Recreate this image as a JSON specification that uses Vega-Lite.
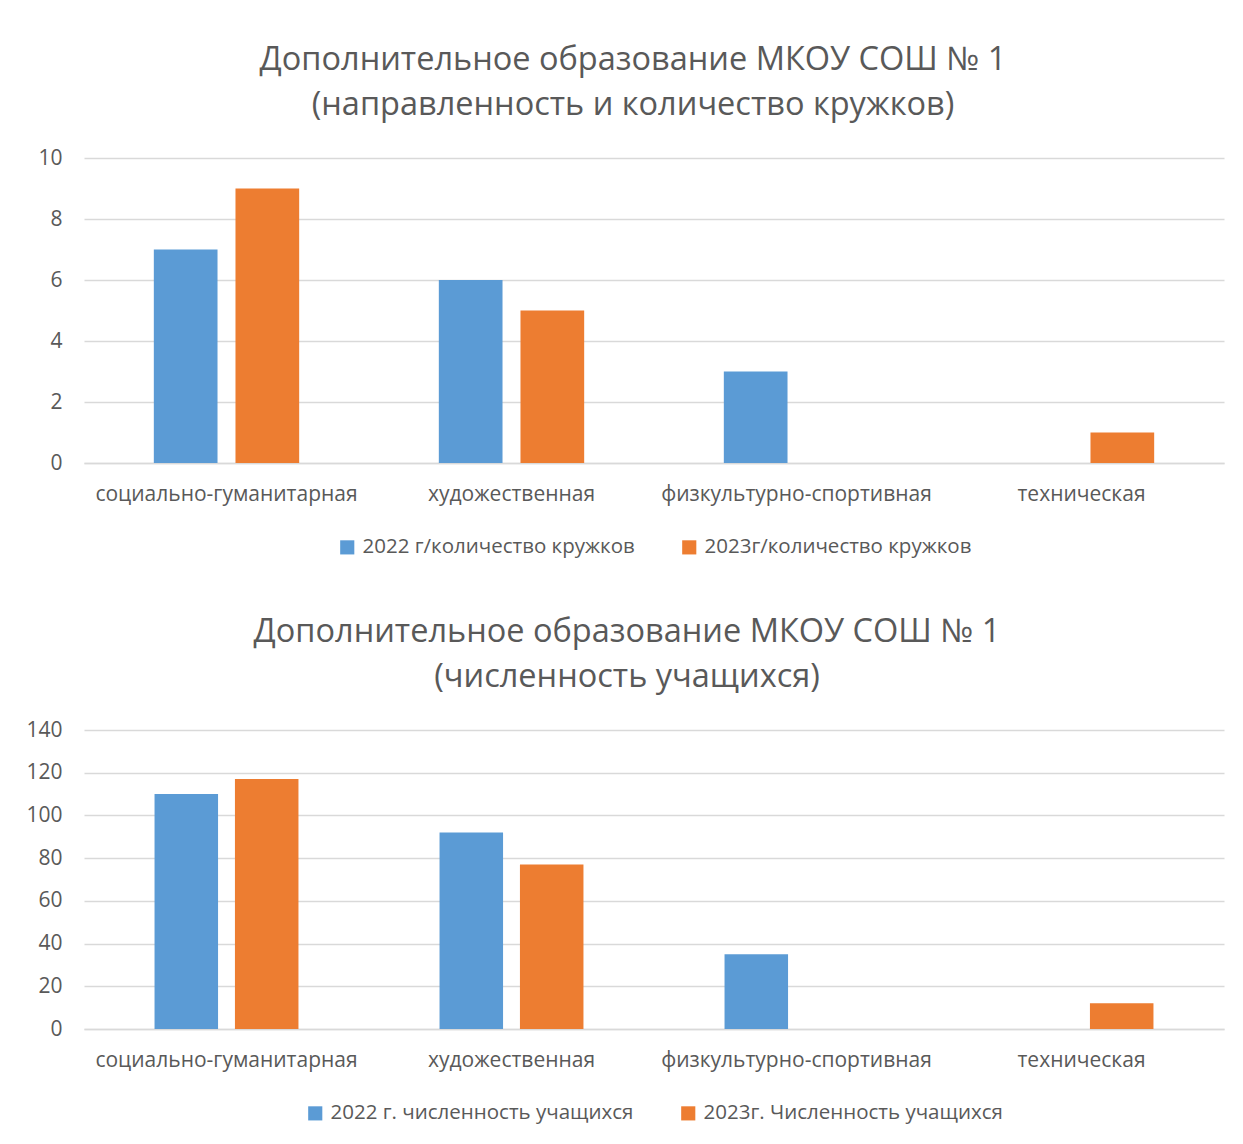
{
  "$schema": "https://vega.github.io/schema/vega-lite/v6.json",
  "padding": {"left": 25, "top": 43, "right": 18, "bottom": 10},
  "background": "white",
  "spacing": 57,
  "config": {
    "font": "Open Sans",
    "view": {"stroke": null},
    "title": {"fontSize": 32.5, "fontWeight": "normal", "color": "#595959", "lineHeight": 45, "anchor": "middle", "frame": "bounds", "offset": 26, "dx": 2},
    "axis": {"labelFont": "Open Sans", "labelFontSize": 21, "labelColor": "#595959", "ticks": false, "title": null, "gridColor": "#D9D9D9", "gridWidth": 1.5, "domainColor": "#D9D9D9", "domainWidth": 1.5, "labelLimit": 400},
    "legend": {"orient": "bottom", "direction": "horizontal", "title": null, "labelFont": "Open Sans", "labelFontSize": 20.5, "labelColor": "#595959", "symbolType": "square", "symbolSize": 200, "symbolStrokeWidth": 0, "columnPadding": 44, "labelOffset": 5, "offset": 33, "labelLimit": 400, "layout": {"bottom": {"anchor": "middle"}}}
  },
  "vconcat": [
    {
      "title": {"text": ["Дополнительное образование МКОУ СОШ № 1", "(направленность и количество кружков)"]},
      "width": 1140,
      "height": 305,
      "data": {"values": [
        {"napr": "социально-гуманитарная", "series": "2022 г/количество кружков", "value": 7},
        {"napr": "социально-гуманитарная", "series": "2023г/количество кружков", "value": 9},
        {"napr": "художественная", "series": "2022 г/количество кружков", "value": 6},
        {"napr": "художественная", "series": "2023г/количество кружков", "value": 5},
        {"napr": "физкультурно-спортивная", "series": "2022 г/количество кружков", "value": 3},
        {"napr": "физкультурно-спортивная", "series": "2023г/количество кружков", "value": 0},
        {"napr": "техническая", "series": "2022 г/количество кружков", "value": 0},
        {"napr": "техническая", "series": "2023г/количество кружков", "value": 1}
      ]},
      "mark": {"type": "bar"},
      "encoding": {
        "x": {"field": "napr", "type": "nominal", "sort": null,
              "scale": {"paddingInner": 0.49, "paddingOuter": 0.245},
              "axis": {"labelAngle": 0, "labelPadding": 20, "grid": false}},
        "xOffset": {"field": "series", "type": "nominal", "scale": {"paddingInner": 0.22, "paddingOuter": 0}},
        "y": {"field": "value", "type": "quantitative", "scale": {"domain": [0, 10], "nice": false},
              "axis": {"values": [0, 2, 4, 6, 8, 10], "domain": false, "labelPadding": 22}},
        "color": {"field": "series", "type": "nominal",
                  "scale": {"domain": ["2022 г/количество кружков", "2023г/количество кружков"], "range": ["#5B9BD5", "#ED7D31"]}}
      }
    },
    {
      "title": {"text": ["Дополнительное образование МКОУ СОШ № 1", "(численность учащихся)"]},
      "width": 1140,
      "height": 299,
      "data": {"values": [
        {"napr": "социально-гуманитарная", "series": "2022 г. численность учащихся", "value": 110},
        {"napr": "социально-гуманитарная", "series": "2023г. Численность учащихся", "value": 117},
        {"napr": "художественная", "series": "2022 г. численность учащихся", "value": 92},
        {"napr": "художественная", "series": "2023г. Численность учащихся", "value": 77},
        {"napr": "физкультурно-спортивная", "series": "2022 г. численность учащихся", "value": 35},
        {"napr": "физкультурно-спортивная", "series": "2023г. Численность учащихся", "value": 0},
        {"napr": "техническая", "series": "2022 г. численность учащихся", "value": 0},
        {"napr": "техническая", "series": "2023г. Численность учащихся", "value": 12}
      ]},
      "mark": {"type": "bar"},
      "encoding": {
        "x": {"field": "napr", "type": "nominal", "sort": null,
              "scale": {"paddingInner": 0.495, "paddingOuter": 0.2475},
              "axis": {"labelAngle": 0, "labelPadding": 20, "grid": false}},
        "xOffset": {"field": "series", "type": "nominal", "scale": {"paddingInner": 0.21, "paddingOuter": 0}},
        "y": {"field": "value", "type": "quantitative", "scale": {"domain": [0, 140], "nice": false},
              "axis": {"values": [0, 20, 40, 60, 80, 100, 120, 140], "domain": false, "labelPadding": 22}},
        "color": {"field": "series", "type": "nominal",
                  "scale": {"domain": ["2022 г. численность учащихся", "2023г. Численность учащихся"], "range": ["#5B9BD5", "#ED7D31"]}}
      }
    }
  ],
  "resolve": {"scale": {"color": "independent", "xOffset": "independent", "x": "independent", "y": "independent"}, "legend": {"color": "independent"}}
}
